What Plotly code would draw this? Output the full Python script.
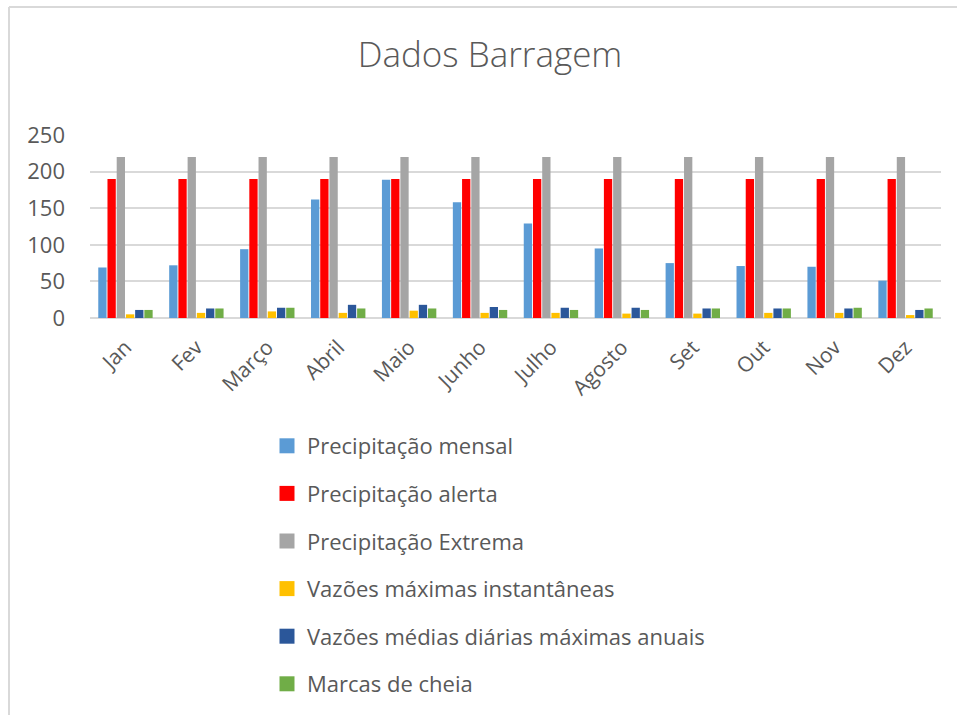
import plotly.graph_objects as go

# Months on the category axis
months = ["Jan", "Fev", "Março", "Abril", "Maio", "Junho", "Julho",
          "Agosto", "Set", "Out", "Nov", "Dez"]

# Series values per month
precipitacao_mensal = [69, 72, 94, 162, 189, 158, 129, 95, 75, 71, 70, 51]
precipitacao_alerta = [190] * 12
precipitacao_extrema = [220] * 12
vazoes_max_inst = [5, 7, 9, 7, 10, 7, 7, 6, 6, 7, 7, 4]
vazoes_medias_diarias = [11, 13, 14, 18, 18, 15, 14, 14, 13, 13, 13, 11]
marcas_cheia = [11, 13, 14, 13, 13, 11, 11, 11, 13, 13, 14, 13]

series = [
    ("Precipitação mensal", precipitacao_mensal, "#5B9BD5"),
    ("Precipitação alerta", precipitacao_alerta, "#FF0000"),
    ("Precipitação Extrema", precipitacao_extrema, "#A5A5A5"),
    ("Vazões máximas instantâneas", vazoes_max_inst, "#FFC000"),
    ("Vazões médias diárias máximas anuais", vazoes_medias_diarias, "#2B579A"),
    ("Marcas de cheia", marcas_cheia, "#70AD47"),
]

FONT = "Open Sans"
TEXT = "#595959"
GRID = "#D9D9D9"

W, H = 957, 715
L, R, T, B = 90, 16, 135, 397

fig = go.Figure()
for i, (name, vals, color) in enumerate(series):
    fig.add_trace(go.Bar(
        x=months, y=vals, name=name,
        marker=dict(color=color, line=dict(width=0)),
        legendgroup=f"g{i}", showlegend=False,
    ))
    # Legend entry with a larger square swatch
    fig.add_trace(go.Scatter(
        x=[None], y=[None], mode="markers", name=name,
        marker=dict(symbol="square", size=15, color=color),
        legendgroup=f"g{i}", showlegend=True, hoverinfo="skip",
    ))

fig.update_layout(
    width=W, height=H,
    margin=dict(l=L, r=R, t=T, b=B, autoexpand=False),
    paper_bgcolor="white", plot_bgcolor="white",
    barmode="group", bargap=0.22, bargroupgap=0.1,
    font=dict(family=FONT, color=TEXT, size=19),
    title=dict(
        text="Dados Barragem",
        font=dict(family=FONT, size=35, color=TEXT, weight=300),
        xref="container", x=490 / W, xanchor="center",
        yref="container", y=1 - 55 / H, yanchor="middle",
    ),
    xaxis=dict(
        tickangle=-45, showgrid=False, showline=False, ticks="",
        tickfont=dict(size=21, color=TEXT), ticklabelstandoff=12,
    ),
    yaxis=dict(
        range=[0, 250], dtick=50, showgrid=True, gridcolor=GRID, gridwidth=2,
        zeroline=True, zerolinecolor=GRID, zerolinewidth=2,
        showline=False, ticks="", ticklabelstandoff=24,
        tickfont=dict(size=22, color=TEXT),
    ),
    legend=dict(
        orientation="v", xref="container", yref="container",
        x=267 / W, xanchor="left", y=1 - 425 / H, yanchor="top",
        font=dict(size=22, color=TEXT, family=FONT),
        tracegroupgap=16, bgcolor="rgba(0,0,0,0)",
    ),
    showlegend=True,
)

# Light frame around the chart area (top and left edges visible)
fig.add_shape(type="line", xref="paper", yref="paper",
              x0=(9 - L) / (W - L - R), x1=(W - L) / (W - L - R),
              y0=(H - B - 7) / (H - T - B), y1=(H - B - 7) / (H - T - B),
              line=dict(color=GRID, width=2))
fig.add_shape(type="line", xref="paper", yref="paper",
              x0=(9 - L) / (W - L - R), x1=(9 - L) / (W - L - R),
              y0=(H - B - 7) / (H - T - B), y1=-B / (H - T - B),
              line=dict(color=GRID, width=2))

fig.write_html("out.html")
